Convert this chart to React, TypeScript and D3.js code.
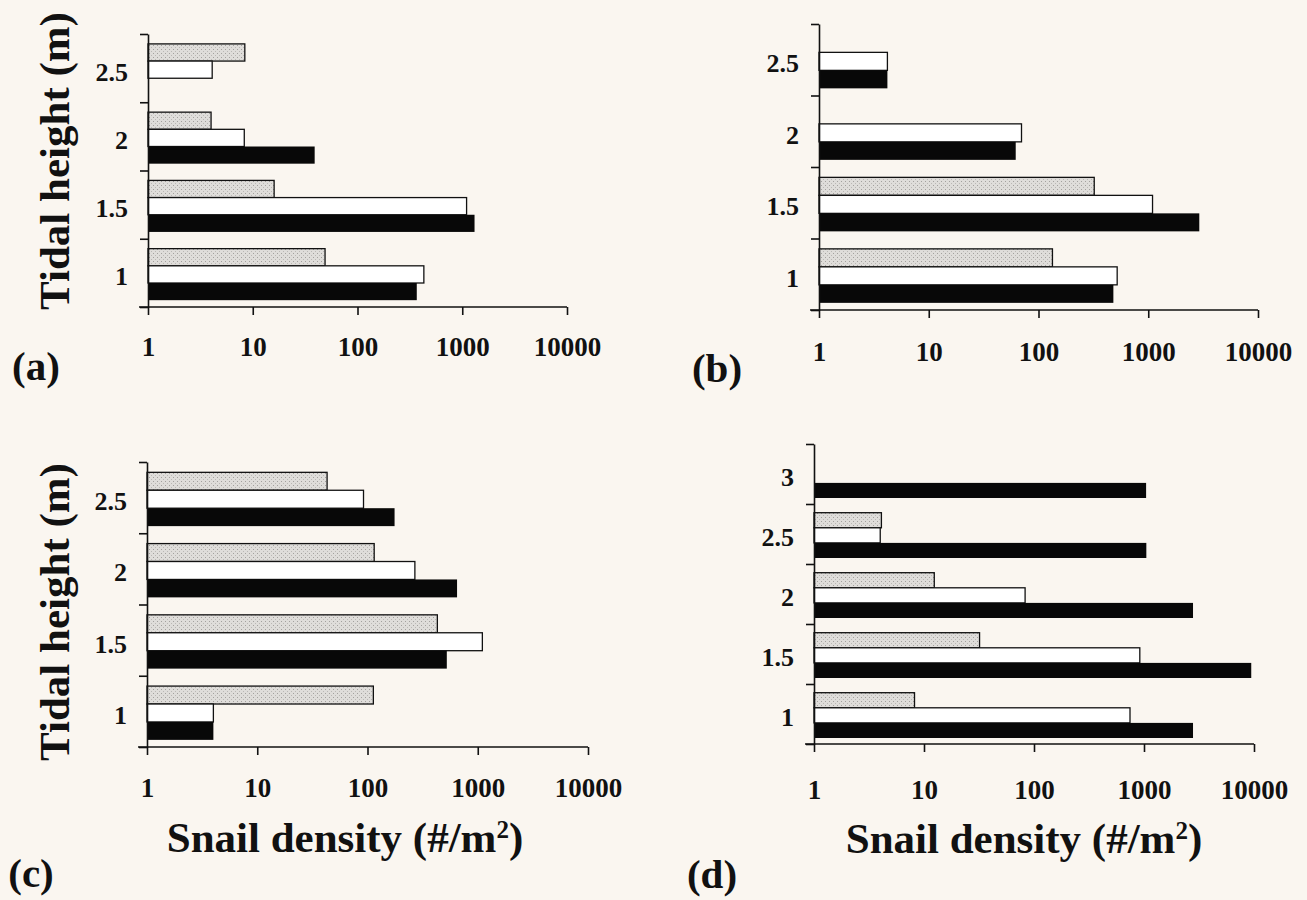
import React, { useEffect, useRef } from 'react';
import * as d3 from 'd3';

// tidal heights (m), bottom to top
const heights = ['1', '1.5', '2', '2.5'];
const heightsD = ['1', '1.5', '2', '2.5', '3'];
const densityTicks = [1, 10, 100, 1000, 10000];
const seriesKeys = ['gray', 'white', 'black'];

// snail density (#/m2), null = no bar
const grayA = [49, 16, 4, 8.4];
const whiteA = [430, 1100, 8.3, 4.1];
const blackA = [368, 1310, 39, null];

const grayB = [134, 322, null, null];
const whiteB = [521, 1094, 70, 4.2];
const blackB = [481, 2918, 62, 4.2];

const grayC = [113, 430, 115, 43];
const whiteC = [4, 1101, 269, 92];
const blackC = [4, 524, 649, 176];

const grayD = [8.2, 32, 12.4, 4.1, null];
const whiteD = [746, 916, 83, 4, null];
const blackD = [2790, 9440, 2790, 1050, 1045];

const FONT = "'Liberation Serif', 'Times New Roman', serif";

const panels = [
  { letter: '(a)', cats: heights, series: [grayA, whiteA, blackA], x0: 148, x1: 567, top: 34, bottom: 307, pad: 22, lx: 36, ly: 380, yTitle: [69, 161], xTitle: null },
  { letter: '(b)', cats: heights, series: [grayB, whiteB, blackB], x0: 819, x1: 1258, top: 24, bottom: 310, pad: 24, lx: 717, ly: 382, yTitle: null, xTitle: null },
  { letter: '(c)', cats: heights, series: [grayC, whiteC, blackC], x0: 147, x1: 588, top: 462, bottom: 747, pad: 23, lx: 31, ly: 887, yTitle: [69, 612], xTitle: [345, 852] },
  { letter: '(d)', cats: heightsD, series: [grayD, whiteD, blackD], x0: 814, x1: 1254, top: 444, bottom: 744, pad: 28, lx: 712, ly: 888, yTitle: null, xTitle: [1024, 853] },
];

function drawPanel(svg, p) {
  const g = svg.append('g');
  const x = d3.scaleLog().domain([1, 10000]).range([p.x0, p.x1]);
  const y = d3.scaleBand().domain(p.cats).range([p.bottom, p.top]);
  const bw = y.bandwidth();
  const inner = d3.scaleBand().domain(seriesKeys).range([bw * 0.145, bw * 0.9]);
  const fills = { gray: 'url(#stipple)', white: '#ffffff', black: '#080808' };

  // bars
  p.cats.forEach((c, i) => {
    seriesKeys.forEach((k, j) => {
      const v = p.series[j][i];
      if (v == null) return;
      g.append('rect')
        .attr('x', x(1))
        .attr('y', y(c) + inner(k))
        .attr('width', x(v) - x(1))
        .attr('height', inner.bandwidth())
        .attr('fill', fills[k])
        .attr('stroke', '#111')
        .attr('stroke-width', k === 'black' ? 0 : 1.3);
    });
  });

  // y axis: ticks at category boundaries
  const yb = d3.scaleLinear().domain([0, p.cats.length]).range([p.bottom, p.top]);
  g.append('g')
    .attr('transform', `translate(${p.x0},0)`)
    .call(d3.axisLeft(yb).tickValues(d3.range(p.cats.length + 1)).tickSize(8).tickSizeOuter(0).tickFormat(() => ''))
    .call((a) => a.selectAll('line, path').attr('stroke', '#111').attr('stroke-width', 1.6));

  // y category labels
  g.append('g')
    .attr('transform', `translate(${p.x0},0)`)
    .call(d3.axisLeft(y).tickSize(0).tickPadding(20))
    .call((a) => a.select('.domain').remove())
    .call((a) =>
      a.selectAll('text')
        .attr('dy', '0.48em')
        .attr('font-family', FONT)
        .attr('font-weight', 'bold')
        .attr('font-size', 26)
        .attr('fill', '#111')
    );

  // x axis
  const xa = g.append('g')
    .attr('transform', `translate(0,${p.bottom})`)
    .call(d3.axisBottom(x).tickValues(densityTicks).tickFormat(d3.format('d')).tickSize(8).tickSizeOuter(0).tickPadding(p.pad))
    .call((a) => a.select('.domain').remove());
  xa.selectAll('line').attr('stroke', '#111').attr('stroke-width', 1.6);
  xa.selectAll('text')
    .attr('font-family', FONT)
    .attr('font-weight', 'bold')
    .attr('font-size', 27)
    .attr('fill', '#111');
  xa.append('line')
    .attr('x1', p.x0 - 9)
    .attr('x2', p.x1)
    .attr('stroke', '#111')
    .attr('stroke-width', 1.6);

  // panel letter
  g.append('text')
    .attr('x', p.lx)
    .attr('y', p.ly)
    .attr('text-anchor', 'middle')
    .attr('font-family', FONT)
    .attr('font-weight', 'bold')
    .attr('font-size', 41)
    .attr('fill', '#111')
    .text(p.letter);

  if (p.yTitle) {
    g.append('text')
      .attr('transform', `translate(${p.yTitle[0]},${p.yTitle[1]}) rotate(-90)`)
      .attr('text-anchor', 'middle')
      .attr('font-family', FONT)
      .attr('font-weight', 'bold')
      .attr('font-size', 43)
      .attr('fill', '#111')
      .text('Tidal height (m)');
  }

  if (p.xTitle) {
    const t = g.append('text')
      .attr('x', p.xTitle[0])
      .attr('y', p.xTitle[1])
      .attr('text-anchor', 'middle')
      .attr('font-family', FONT)
      .attr('font-weight', 'bold')
      .attr('font-size', 43)
      .attr('fill', '#111');
    t.append('tspan').text('Snail density (#/m');
    t.append('tspan').attr('font-size', 25).attr('dy', -14).text('2');
    t.append('tspan').attr('dy', 14).text(')');
  }
}

export default function App() {
  const svgRef = useRef(null);

  useEffect(() => {
    const svg = d3.select(svgRef.current);
    svg.selectAll('*').remove();

    const defs = svg.append('defs');
    const pat = defs.append('pattern')
      .attr('id', 'stipple')
      .attr('width', 4)
      .attr('height', 4)
      .attr('patternUnits', 'userSpaceOnUse');
    pat.append('rect').attr('width', 4).attr('height', 4).attr('fill', '#dfddda');
    pat.append('rect').attr('x', 1).attr('y', 1).attr('width', 1).attr('height', 1).attr('fill', '#a3a19e');
    pat.append('rect').attr('x', 3).attr('y', 3).attr('width', 1).attr('height', 1).attr('fill', '#bab8b5');

    svg.append('rect').attr('width', 1307).attr('height', 900).attr('fill', '#faf6f0');

    panels.forEach((p) => drawPanel(svg, p));
  }, []);

  return (
    <svg
      ref={svgRef}
      width={1307}
      height={900}
      style={{ position: 'absolute', left: 0, top: 0, display: 'block' }}
    />
  );
}
